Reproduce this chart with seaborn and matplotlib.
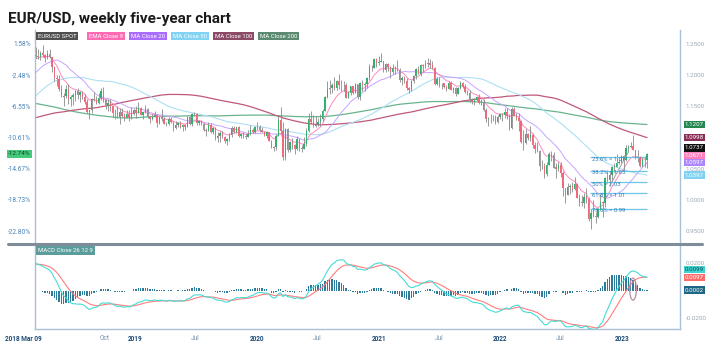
import numpy as np
import pandas as pd
import matplotlib
matplotlib.use("Agg")
import matplotlib.pyplot as plt
import matplotlib.dates as mdates
import matplotlib.transforms as mtransforms
from matplotlib.patches import Ellipse
from matplotlib.lines import Line2D
import seaborn as sns

sns.set_style("white")
plt.rcParams["font.family"] = ["Roboto", "DejaVu Sans"]

# ------------------------------------------------------------------
# Weekly EUR/USD closes before the chart window (Apr 2014 - 2 Mar 2018),
# only used to seed the moving averages and the MACD.
history_close = [
    1.3815, 1.3870, 1.3755, 1.3695, 1.3630, 1.3635,
    1.3600, 1.3640, 1.3600, 1.3645,
    1.3605, 1.3610, 1.3525, 1.3430,
    1.3410, 1.3400, 1.3240, 1.3130, 1.3130,
    1.2950, 1.2880, 1.2830, 1.2685,
    1.2520, 1.2630, 1.2760, 1.2670, 1.2525,
    1.2455, 1.2525, 1.2390, 1.2450,
    1.2290, 1.2460, 1.2225, 1.2225,
    # 2015
    1.1840, 1.1580, 1.1365, 1.1290,
    1.1310, 1.1390, 1.1380, 1.1195,
    1.0840, 1.0495, 1.0825, 1.0890,
    1.0970, 1.0600, 1.0810, 1.0870, 1.1200,
    1.1200, 1.1450, 1.1015, 1.0990,
    1.1110, 1.1260, 1.1350, 1.1165,
    1.1100, 1.1160, 1.0830, 1.0980, 1.0980,
    1.0965, 1.1020, 1.1385, 1.1180,
    1.1145, 1.1340, 1.1300, 1.1195,
    1.1370, 1.1345, 1.1350, 1.1015, 1.1005,
    1.0740, 1.0770, 1.0645, 1.0590,
    1.0885, 1.0990, 1.0870, 1.0975,
    # 2016
    1.0930, 1.0920, 1.0890, 1.0800, 1.0830,
    1.1150, 1.1260, 1.1130, 1.0930,
    1.1000, 1.1150, 1.1270, 1.1160, 1.1390,
    1.1400, 1.1380, 1.1220, 1.1460,
    1.1400, 1.1310, 1.1220, 1.1140,
    1.1365, 1.1255, 1.1280, 1.1130,
    1.1060, 1.1045, 1.0980, 1.1175,
    1.1085, 1.1160, 1.1325, 1.1190, 1.1155,
    1.1150, 1.1235, 1.1225,
    1.1240, 1.1200, 1.0985, 1.0885, 1.0985,
    1.1030, 1.0860, 1.0610, 1.0590,
    1.0660, 1.0560, 1.0445, 1.0455, 1.0520,
    # 2017
    1.0530, 1.0645, 1.0700, 1.0700,
    1.0780, 1.0640, 1.0615, 1.0560,
    1.0620, 1.0670, 1.0735, 1.0800, 1.0650,
    1.0640, 1.0615, 1.0725, 1.0895,
    1.0990, 1.0930, 1.1205, 1.1165,
    1.1280, 1.1195, 1.1195, 1.1195, 1.1425,
    1.1400, 1.1470, 1.1665, 1.1750,
    1.1770, 1.1815, 1.1760, 1.1925, 1.1860,
    1.2035, 1.1945, 1.1945, 1.1815,
    1.1735, 1.1820, 1.1785, 1.1605,
    1.1610, 1.1665, 1.1795, 1.1935,
    1.1895, 1.1740, 1.1755, 1.1860, 1.2005,
    # 2018 to 2 Mar
    1.2030, 1.2200, 1.2220, 1.2425,
    1.2460, 1.2250, 1.2405, 1.2295,
    1.2315,
]

# Weekly candles, 9 Mar 2018 - 17 Mar 2023 (open = previous close)
chart_start = "2018-03-09"
close = [
    # 2018
    1.2307, 1.2288, 1.2352, 1.2324,
    1.2280, 1.2330, 1.2288, 1.2130,
    1.1960, 1.1940, 1.1770, 1.1650,
    1.1660, 1.1770, 1.1610, 1.1655, 1.1685,
    1.1745, 1.1685, 1.1720, 1.1655,
    1.1570, 1.1410, 1.1440, 1.1620, 1.1600,
    1.1550, 1.1625, 1.1750, 1.1605,
    1.1525, 1.1560, 1.1510, 1.1400,
    1.1385, 1.1335, 1.1415, 1.1340, 1.1315,
    1.1380, 1.1305, 1.1370, 1.1440,
    # 2019
    1.1395, 1.1470, 1.1365, 1.1405,
    1.1455, 1.1325, 1.1295, 1.1335,
    1.1365, 1.1235, 1.1325, 1.1300, 1.1220,
    1.1215, 1.1300, 1.1245, 1.1150,
    1.1200, 1.1235, 1.1160, 1.1205, 1.1170,
    1.1335, 1.1210, 1.1370, 1.1370,
    1.1225, 1.1270, 1.1220, 1.1125,
    1.1110, 1.1200, 1.1090, 1.1145, 1.0985,
    1.1030, 1.1075, 1.1015, 1.0940,
    1.0980, 1.1040, 1.1145, 1.1080,
    1.1165, 1.1020, 1.1050, 1.1020, 1.1015,
    1.1060, 1.1120, 1.1080, 1.1175,
    # 2020
    1.1160, 1.1120, 1.1090, 1.1025, 1.1090,
    1.0945, 1.0830, 1.0845, 1.1025,
    1.1285, 1.1105, 1.0695, 1.1140,
    1.0805, 1.0935, 1.0875, 1.0820,
    1.0980, 1.0840, 1.0820, 1.0900, 1.1100,
    1.1290, 1.1255, 1.1180, 1.1220,
    1.1245, 1.1300, 1.1425, 1.1655, 1.1775,
    1.1785, 1.1840, 1.1795, 1.1905,
    1.1840, 1.1845, 1.1840, 1.1630,
    1.1715, 1.1825, 1.1720, 1.1860, 1.1645,
    1.1875, 1.1835, 1.1855, 1.1960,
    1.2120, 1.2110, 1.2255, 1.2185,
    # 2021
    1.2215, 1.2220, 1.2080, 1.2170, 1.2135,
    1.2045, 1.2120, 1.2120, 1.2075,
    1.1915, 1.1950, 1.1905, 1.1795,
    1.1760, 1.1900, 1.1980, 1.2095, 1.2020,
    1.2165, 1.2140, 1.2180, 1.2190,
    1.2165, 1.2105, 1.1860, 1.1935,
    1.1865, 1.1875, 1.1810, 1.1770, 1.1870,
    1.1760, 1.1795, 1.1700, 1.1795,
    1.1880, 1.1815, 1.1725, 1.1720,
    1.1595, 1.1575, 1.1600, 1.1645, 1.1560,
    1.1565, 1.1445, 1.1290, 1.1320,
    1.1315, 1.1315, 1.1240, 1.1325, 1.1370,
    # 2022
    1.1360, 1.1410, 1.1345, 1.1145,
    1.1450, 1.1350, 1.1320, 1.1270,
    1.0930, 1.0910, 1.1050, 1.0985,
    1.1045, 1.0875, 1.0810, 1.0790, 1.0545,
    1.0550, 1.0410, 1.0560, 1.0735,
    1.0720, 1.0520, 1.0495, 1.0555,
    1.0425, 1.0185, 1.0080, 1.0210, 1.0220,
    1.0180, 1.0260, 1.0040, 0.9965,
    0.9955, 1.0045, 1.0015, 0.9690, 0.9800,
    0.9740, 0.9725, 0.9860, 0.9965,
    0.9960, 1.0355, 1.0325, 1.0400,
    1.0535, 1.0530, 1.0585, 1.0615, 1.0705,
    # 2023
    1.0645, 1.0830, 1.0855, 1.0870,
    1.0795, 1.0680, 1.0695, 1.0545,
    1.0635, 1.0640, 1.0737,
]
high = [
    # 2018
    1.2445, 1.2410, 1.2390, 1.2475,
    1.2340, 1.2395, 1.2415, 1.2290,
    1.2140, 1.1995, 1.1995, 1.1835,
    1.1720, 1.1840, 1.1850, 1.1675, 1.1720,
    1.1760, 1.1790, 1.1745, 1.1750,
    1.1700, 1.1610, 1.1445, 1.1635, 1.1735,
    1.1670, 1.1720, 1.1790, 1.1815,
    1.1620, 1.1610, 1.1620, 1.1520,
    1.1455, 1.1500, 1.1470, 1.1470, 1.1400,
    1.1440, 1.1440, 1.1485, 1.1475,
    # 2019
    1.1500, 1.1570, 1.1485, 1.1415,
    1.1515, 1.1465, 1.1340, 1.1370,
    1.1420, 1.1375, 1.1345, 1.1450, 1.1325,
    1.1255, 1.1325, 1.1325, 1.1265,
    1.1265, 1.1250, 1.1265, 1.1215, 1.1215,
    1.1350, 1.1350, 1.1385, 1.1415,
    1.1395, 1.1285, 1.1285, 1.1230,
    1.1150, 1.1250, 1.1230, 1.1160, 1.1165,
    1.1085, 1.1110, 1.1110, 1.1030,
    1.1000, 1.1065, 1.1180, 1.1180,
    1.1175, 1.1180, 1.1055, 1.1095, 1.1050,
    1.1115, 1.1200, 1.1145, 1.1190,
    # 2020
    1.1240, 1.1205, 1.1175, 1.1100, 1.1100,
    1.1095, 1.0965, 1.0865, 1.1055,
    1.1355, 1.1495, 1.1240, 1.1145,
    1.1150, 1.0950, 1.0990, 1.0890,
    1.1020, 1.0980, 1.0875, 1.1010, 1.1145,
    1.1385, 1.1420, 1.1355, 1.1350,
    1.1305, 1.1375, 1.1450, 1.1665, 1.1910,
    1.1915, 1.1865, 1.1965, 1.1925,
    1.2010, 1.1915, 1.1900, 1.1870,
    1.1750, 1.1830, 1.1830, 1.1880, 1.1860,
    1.1890, 1.1920, 1.1895, 1.1965,
    1.2175, 1.2165, 1.2275, 1.2275,
    # 2021
    1.2310, 1.2350, 1.2225, 1.2190, 1.2190,
    1.2150, 1.2170, 1.2145, 1.2245,
    1.2115, 1.1990, 1.1990, 1.1945,
    1.1815, 1.1925, 1.1995, 1.2115, 1.2150,
    1.2170, 1.2180, 1.2245, 1.2265,
    1.2255, 1.2220, 1.2130, 1.1975,
    1.1975, 1.1880, 1.1880, 1.1835, 1.1905,
    1.1900, 1.1805, 1.1805, 1.1805,
    1.1910, 1.1885, 1.1850, 1.1755,
    1.1760, 1.1640, 1.1625, 1.1670, 1.1690,
    1.1615, 1.1610, 1.1465, 1.1325,
    1.1380, 1.1355, 1.1360, 1.1360, 1.1385,
    # 2022
    1.1385, 1.1480, 1.1470, 1.1370,
    1.1485, 1.1495, 1.1395, 1.1395,
    1.1275, 1.1120, 1.1135, 1.1070,
    1.1185, 1.1075, 1.0930, 1.0935, 1.0805,
    1.0640, 1.0590, 1.0605, 1.0765,
    1.0785, 1.0775, 1.0600, 1.0605,
    1.0615, 1.0465, 1.0185, 1.0275, 1.0255,
    1.0295, 1.0370, 1.0270, 1.0090,
    1.0080, 1.0115, 1.0200, 1.0050, 0.9855,
    0.9999, 0.9810, 0.9875, 1.0095,
    0.9990, 1.0365, 1.0480, 1.0450,
    1.0545, 1.0595, 1.0735, 1.0660, 1.0715,
    # 2023
    1.0715, 1.0875, 1.0885, 1.0930,
    1.1035, 1.0805, 1.0805, 1.0705,
    1.0690, 1.0700, 1.0760,
]
low = [
    # 2018
    1.2275, 1.2260, 1.2240, 1.2295,
    1.2215, 1.2260, 1.2280, 1.2055,
    1.1910, 1.1820, 1.1750, 1.1645,
    1.1510, 1.1640, 1.1540, 1.1510, 1.1525,
    1.1590, 1.1615, 1.1575, 1.1615,
    1.1530, 1.1385, 1.1300, 1.1400, 1.1590,
    1.1530, 1.1535, 1.1595, 1.1570,
    1.1460, 1.1430, 1.1430, 1.1335,
    1.1300, 1.1320, 1.1215, 1.1325, 1.1270,
    1.1305, 1.1270, 1.1300, 1.1360,
    # 2019
    1.1305, 1.1395, 1.1355, 1.1290,
    1.1395, 1.1320, 1.1235, 1.1280,
    1.1325, 1.1175, 1.1220, 1.1270, 1.1210,
    1.1185, 1.1205, 1.1225, 1.1110,
    1.1135, 1.1160, 1.1155, 1.1105, 1.1115,
    1.1160, 1.1200, 1.1180, 1.1345,
    1.1205, 1.1195, 1.1205, 1.1100,
    1.1025, 1.1100, 1.1065, 1.1050, 1.0965,
    1.0925, 1.0925, 1.0990, 1.0905,
    1.0880, 1.0940, 1.1010, 1.1075,
    1.1070, 1.1015, 1.0990, 1.0990, 1.0980,
    1.1005, 1.1040, 1.1065, 1.1070,
    # 2020
    1.1125, 1.1085, 1.1085, 1.1020, 1.0990,
    1.0940, 1.0825, 1.0780, 1.0800,
    1.1025, 1.1055, 1.0640, 1.0640,
    1.0770, 1.0770, 1.0810, 1.0730,
    1.0800, 1.0780, 1.0775, 1.0810, 1.0870,
    1.1095, 1.1210, 1.1170, 1.1170,
    1.1185, 1.1185, 1.1270, 1.1425, 1.1635,
    1.1695, 1.1710, 1.1755, 1.1755,
    1.1780, 1.1750, 1.1740, 1.1625,
    1.1625, 1.1685, 1.1690, 1.1705, 1.1620,
    1.1605, 1.1745, 1.1745, 1.1800,
    1.1925, 1.2060, 1.2105, 1.2130,
    # 2021
    1.2165, 1.2210, 1.2055, 1.2055, 1.2060,
    1.1950, 1.2020, 1.2020, 1.2065,
    1.1895, 1.1835, 1.1875, 1.1760,
    1.1705, 1.1745, 1.1870, 1.1940, 1.2015,
    1.1985, 1.2050, 1.2120, 1.2135,
    1.2105, 1.2095, 1.1845, 1.1845,
    1.1810, 1.1780, 1.1800, 1.1750, 1.1770,
    1.1755, 1.1705, 1.1665, 1.1695,
    1.1775, 1.1800, 1.1720, 1.1685,
    1.1565, 1.1530, 1.1525, 1.1590, 1.1535,
    1.1515, 1.1430, 1.1250, 1.1185,
    1.1235, 1.1260, 1.1220, 1.1235, 1.1300,
    # 2022
    1.1270, 1.1315, 1.1300, 1.1120,
    1.1140, 1.1345, 1.1280, 1.1105,
    1.0920, 1.0805, 1.0900, 1.0960,
    1.0945, 1.0835, 1.0755, 1.0770, 1.0470,
    1.0490, 1.0350, 1.0390, 1.0560,
    1.0625, 1.0505, 1.0360, 1.0470,
    1.0365, 1.0070, 0.9950, 1.0075, 1.0095,
    1.0125, 1.0160, 1.0035, 0.9900,
    0.9910, 0.9865, 0.9955, 0.9670, 0.9535,
    0.9735, 0.9630, 0.9705, 0.9855,
    0.9730, 0.9895, 1.0270, 1.0225,
    1.0290, 1.0445, 1.0530, 1.0570, 1.0595,
    # 2023
    1.0485, 1.0625, 1.0765, 1.0835,
    1.0795, 1.0655, 1.0615, 1.0535,
    1.0535, 1.0525, 1.0515,
]

# Axis labelling
price_ticks = [1.25, 1.20, 1.15, 1.10, 1.05, 1.00, 0.95]
price_tick_labels = ["1.2500", "1.2000", "1.1500", "1.1000", "1.0500", "1.0000", "0.9500"]
pct_tick_labels = ["1.58%", "-2.48%", "-6.55%", "-10.61%", "-14.67%", "-18.73%", "-22.80%"]
percent_base = 1.2305
macd_ticks = [0.02, -0.02]
macd_tick_labels = ["0.0200", "-0.0200"]
x_tick_dates = ["2018-03-09", "2018-10-01", "2019-01-01", "2019-07-01", "2020-01-01",
                "2020-07-01", "2021-01-01", "2021-07-01", "2022-01-01", "2022-07-01",
                "2023-01-01"]
x_tick_labels = ["2018 Mar 09", "Oct", "2019", "Jul", "2020", "Jul", "2021", "Jul",
                 "2022", "Jul", "2023"]
fib_ratios = [0.236, 0.382, 0.5, 0.618, 0.786]
fib_from = "2022-09-01"
trend_dates = ["2022-11-25", "2023-01-20"]   # trend line through these two weekly lows
note_date = "2023-02-03"                       # circled MACD turn

# ------------------------------------------------------------------
n = len(close)
dates = pd.date_range(chart_start, periods=n, freq="W-FRI")
xs = mdates.date2num(dates)
c = np.array(close)
h = np.array(high)
l = np.array(low)
o = np.array([history_close[-1]] + close[:-1])

full = pd.Series(history_close + close, dtype=float)
ema9 = full.ewm(span=9, adjust=False).mean().iloc[-n:].to_numpy()
ma20 = full.rolling(20).mean().iloc[-n:].to_numpy()
ma50 = full.rolling(50).mean().iloc[-n:].to_numpy()
ma100 = full.rolling(100).mean().iloc[-n:].to_numpy()
ma200 = full.rolling(200, min_periods=150).mean().iloc[-n:].to_numpy()
macd_full = full.ewm(span=12, adjust=False).mean() - full.ewm(span=26, adjust=False).mean()
sig_full = macd_full.ewm(span=9, adjust=False).mean()
macd = macd_full.iloc[-n:].to_numpy()
signal = sig_full.iloc[-n:].to_numpy()
histo = macd - signal

# Colours
UP, DOWN, WICK = "#33b06e", "#ec6a79", "#8a8a8a"
C_EMA9, C_MA20, C_MA50, C_MA100, C_MA200 = "#ff8ac2", "#c6a4ff", "#ace0f4", "#c0587a", "#68b48d"
C_MACD, C_SIG, C_HIST = "#46dcd6", "#ff7d7d", "#2d7c9c"
AXIS = "#a9c1d6"

W, H = 715, 349
fig = plt.figure(figsize=(W / 100, H / 100), dpi=100)
fig.patch.set_facecolor("white")


def fx(px):
    return px / W


def fy(py):
    return 1 - py / H


def stack_up(values, gap):
    """Keep each tag at its value, nudging upward where tags would collide."""
    values = np.asarray(values, dtype=float)
    pos = np.empty_like(values)
    prev = None
    for i in np.argsort(values):
        v = values[i]
        if prev is not None and v < prev + gap:
            v = prev + gap
        pos[i] = v
        prev = v
    return pos


L, R = 35, 680
ax_p = fig.add_axes([fx(L), fy(243), (R - L) / W, (243 - 30) / H])
ax_m = fig.add_axes([fx(L), fy(329), (R - L) / W, (329 - 246) / H])

xlim = (mdates.date2num(pd.Timestamp("2018-03-07")), mdates.date2num(pd.Timestamp("2023-06-24")))
p_ylim = (0.9312, 1.272)
m_ylim = (-0.0280, 0.0324)

# ---- price panel ----
for vals, col, lw in [(ma200, C_MA200, 0.9), (ma100, C_MA100, 0.9), (ma50, C_MA50, 0.8),
                      (ma20, C_MA20, 0.7), (ema9, C_EMA9, 0.7)]:
    sns.lineplot(x=xs, y=vals, ax=ax_p, color=col, linewidth=lw, legend=False, zorder=2)

ax_p.vlines(xs, l, h, color=WICK, linewidth=0.6, zorder=3)
up = c >= o
ax_p.bar(xs[up], c[up] - o[up], bottom=o[up], width=4.8, color=UP, linewidth=0, zorder=4)
ax_p.bar(xs[~up], o[~up] - c[~up], bottom=c[~up], width=4.8, color=DOWN, linewidth=0, zorder=4)

# Fibonacci retracement of the 2022-23 swing
seg = dates >= pd.Timestamp(fib_from)
lo_i = np.where(seg)[0][np.argmin(l[seg])]
hi_i = np.where(seg)[0][np.argmax(h[seg])]
f_lo, f_hi = l[lo_i], h[hi_i]
for r in fib_ratios:
    lvl = f_hi - r * (f_hi - f_lo)
    ax_p.hlines(lvl, xs[lo_i] - 3, xs[-1], color="#6cc6e8", linewidth=0.9, zorder=3.5)
    ax_p.text(xs[lo_i] + 3, lvl - 0.003, f"{r * 100:g}% = {lvl:.2f}", fontsize=4.2,
              color="#2f7cb4", va="center", ha="left", zorder=6)

# trend line through two weekly lows
ti = [int(np.where(dates == pd.Timestamp(d))[0][0]) for d in trend_dates]
ax_p.plot(xs[ti], l[ti], color="#a0a0a0", linewidth=0.7, zorder=5)

ax_p.set_xlim(xlim)
ax_p.set_ylim(p_ylim)
ax_p.set_yticks(price_ticks)
ax_p.set_yticklabels(pct_tick_labels)
ax_p.tick_params(axis="y", length=0, labelsize=4.7, labelcolor="#4a84b8", pad=3)
ax_p.tick_params(axis="x", bottom=False, labelbottom=False)
for s in ["top", "bottom"]:
    ax_p.spines[s].set_visible(False)
for s in ["left", "right"]:
    ax_p.spines[s].set_color(AXIS)
    ax_p.spines[s].set_linewidth(1.0)
ax_p.set_xlabel("")
ax_p.set_ylabel("")

# right-hand price tags
price_tags = [
    (ma200[-1], "#23874f", "white"),
    (ma100[-1], "#8c2f58", "white"),
    (c[-1], "#111111", "white"),
    (ema9[-1], "#ff80bd", "white"),
    (ma20[-1], "#ad85ff", "white"),
    (ma50[-1], "#7fd2f2", "white"),
]
tag_pos = stack_up([t[0] for t in price_tags], 0.0118)

ax_r = ax_p.twinx()
ax_r.set_ylim(p_ylim)
ax_r.set_yticks(price_ticks)
ax_r.set_yticklabels(price_tick_labels)
ax_r.tick_params(axis="y", length=0, labelsize=4.5, labelcolor="#9aa8b6", pad=4)
for s in ax_r.spines.values():
    s.set_visible(False)
for tk, lab in zip(price_ticks, ax_r.get_yticklabels()):
    if np.min(np.abs(tag_pos - tk)) < 0.0075:
        lab.set_visible(False)

trans_r = mtransforms.blended_transform_factory(ax_r.transAxes, ax_r.transData)
for (val, bg, fg), yv in zip(price_tags, tag_pos):
    ax_r.text(1.0075, yv, f"{val:.4f}", transform=trans_r, fontsize=4.4, color=fg,
              va="center", ha="left", zorder=10, clip_on=False,
              bbox=dict(boxstyle="square,pad=0.2", fc=bg, ec="none"))

trans_l = mtransforms.blended_transform_factory(ax_p.transAxes, ax_p.transData)
ax_p.text(-0.0065, c[-1], f"{(c[-1] / percent_base - 1) * 100:.2f}%", transform=trans_l,
          fontsize=4.6, color="#14402a", va="center", ha="right", zorder=10, clip_on=False,
          bbox=dict(boxstyle="square,pad=0.25", fc="#45c97a", ec="none"))

# ---- MACD panel ----
ax_m.bar(xs, histo, width=4.2, color=C_HIST, linewidth=0, zorder=2)
sns.lineplot(x=xs, y=signal, ax=ax_m, color=C_SIG, linewidth=0.8, legend=False, zorder=3)
sns.lineplot(x=xs, y=macd, ax=ax_m, color=C_MACD, linewidth=0.8, legend=False, zorder=3)
ni = int(np.where(dates == pd.Timestamp(note_date))[0][0])
ax_m.add_patch(Ellipse((xs[ni], 0.001), width=20, height=0.016, fill=False,
                       edgecolor="#b98aa2", linewidth=0.9, zorder=4))

ax_m.set_xlim(xlim)
ax_m.set_ylim(m_ylim)
ax_m.yaxis.tick_right()
ax_m.set_yticks(macd_ticks)
ax_m.set_yticklabels(macd_tick_labels)
ax_m.tick_params(axis="y", length=0, labelsize=4.5, labelcolor="#9aa8b6", pad=4)
xt = mdates.date2num(pd.to_datetime(x_tick_dates))
ax_m.set_xticks(xt)
ax_m.set_xticklabels(x_tick_labels)
ax_m.tick_params(axis="x", length=3, width=0.7, color=AXIS, labelsize=4.7, pad=1)
for lab, txt in zip(ax_m.get_xticklabels(), x_tick_labels):
    if txt[:2] == "20":
        lab.set_color("#1d4d78")
        lab.set_fontweight("bold")
    else:
        lab.set_color("#7592ad")
first = ax_m.get_xticklabels()[0]
first.set_ha("right")
first.set_transform(first.get_transform() + mtransforms.ScaledTranslation(6 / 100, 0, fig.dpi_scale_trans))
ax_m.spines["top"].set_visible(False)
for s in ["left", "right", "bottom"]:
    ax_m.spines[s].set_color(AXIS)
    ax_m.spines[s].set_linewidth(1.0)
ax_m.set_xlabel("")
ax_m.set_ylabel("")

trans_m = mtransforms.blended_transform_factory(ax_m.transAxes, ax_m.transData)
macd_tags = [(macd[-1], "#3fd3d0", "#0d4a55"), (signal[-1], "#ff6b6b", "white"),
             (histo[-1], "#1f6686", "white")]
mpos = stack_up([t[0] for t in macd_tags], 0.0058)
for (val, bg, fg), yv in zip(macd_tags, mpos):
    ax_m.text(1.0075, yv, f"{val:.4f}", transform=trans_m, fontsize=4.4, color=fg,
              va="center", ha="left", zorder=10, clip_on=False,
              bbox=dict(boxstyle="square,pad=0.2", fc=bg, ec="none"))

# ---- figure furniture ----
fig.add_artist(Line2D([fx(8), fx(702)], [fy(243.8), fy(243.8)], color="#7f8d9a", linewidth=2.2))

fig.text(fx(8), fy(19), "EUR/USD, weekly five-year chart", fontsize=11, fontweight="bold",
         color="#1b1b1b", va="center", ha="left")

legend_items = [("EURUSD SPOT", "#4f4f4f", 38), ("EMA Close 9", "#ff69b4", 89),
                ("MA Close 20", "#aa6cff", 131), ("MA Close 50", "#80d3f2", 173),
                ("MA Close 100", "#8b4b66", 215), ("MA Close 200", "#5c8a70", 260)]
for txt, bg, x0 in legend_items:
    fig.text(fx(x0), fy(36), txt, fontsize=4.3, color="white", va="center", ha="left",
             bbox=dict(boxstyle="square,pad=0.3", fc=bg, ec="none"))
fig.text(fx(38), fy(250.5), "MACD Close 26 12 9", fontsize=4.3, color="white", va="center",
         ha="left", bbox=dict(boxstyle="square,pad=0.3", fc="#5b9d9b", ec="none"))

fig.savefig("out.png", dpi=100, facecolor="white")
